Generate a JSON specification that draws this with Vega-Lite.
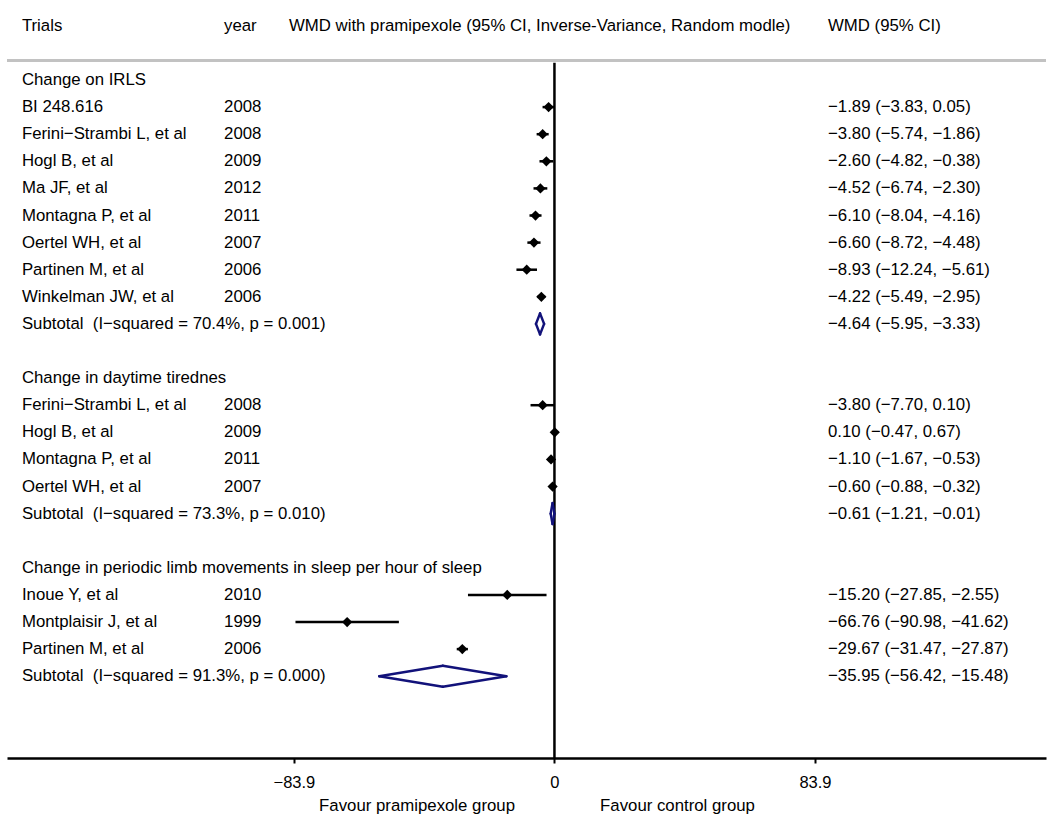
{
  "$schema": "https://vega.github.io/schema/vega-lite/v6.json",
  "width": 1039,
  "height": 758,
  "padding": {"left": 5, "top": 0, "right": 0, "bottom": 0},
  "autosize": {"type": "pad"},
  "background": "white",
  "config": {"view": {"stroke": null}},
  "data": {"values": [
    {"row": 0, "type": "group", "label": "Change on IRLS", "year": "", "result": ""},
    {"row": 1, "type": "study", "label": "BI 248.616", "year": "2008", "est": -1.89, "lo": -3.83, "hi": 0.05, "result": "−1.89 (−3.83, 0.05)"},
    {"row": 2, "type": "study", "label": "Ferini−Strambi L, et al", "year": "2008", "est": -3.80, "lo": -5.74, "hi": -1.86, "result": "−3.80 (−5.74, −1.86)"},
    {"row": 3, "type": "study", "label": "Hogl B, et al", "year": "2009", "est": -2.60, "lo": -4.82, "hi": -0.38, "result": "−2.60 (−4.82, −0.38)"},
    {"row": 4, "type": "study", "label": "Ma JF, et al", "year": "2012", "est": -4.52, "lo": -6.74, "hi": -2.30, "result": "−4.52 (−6.74, −2.30)"},
    {"row": 5, "type": "study", "label": "Montagna P, et al", "year": "2011", "est": -6.10, "lo": -8.04, "hi": -4.16, "result": "−6.10 (−8.04, −4.16)"},
    {"row": 6, "type": "study", "label": "Oertel WH, et al", "year": "2007", "est": -6.60, "lo": -8.72, "hi": -4.48, "result": "−6.60 (−8.72, −4.48)"},
    {"row": 7, "type": "study", "label": "Partinen M, et al", "year": "2006", "est": -8.93, "lo": -12.24, "hi": -5.61, "result": "−8.93 (−12.24, −5.61)"},
    {"row": 8, "type": "study", "label": "Winkelman JW, et al", "year": "2006", "est": -4.22, "lo": -5.49, "hi": -2.95, "result": "−4.22 (−5.49, −2.95)"},
    {"row": 9, "type": "subtotal", "label": "Subtotal\u00a0 (I−squared = 70.4%, p = 0.001)", "year": "", "est": -4.64, "lo": -5.95, "hi": -3.33, "result": "−4.64 (−5.95, −3.33)"},
    {"row": 11, "type": "group", "label": "Change in daytime tirednes", "year": "", "result": ""},
    {"row": 12, "type": "study", "label": "Ferini−Strambi L, et al", "year": "2008", "est": -3.80, "lo": -7.70, "hi": 0.10, "result": "−3.80 (−7.70, 0.10)"},
    {"row": 13, "type": "study", "label": "Hogl B, et al", "year": "2009", "est": 0.10, "lo": -0.47, "hi": 0.67, "result": "0.10 (−0.47, 0.67)"},
    {"row": 14, "type": "study", "label": "Montagna P, et al", "year": "2011", "est": -1.10, "lo": -1.67, "hi": -0.53, "result": "−1.10 (−1.67, −0.53)"},
    {"row": 15, "type": "study", "label": "Oertel WH, et al", "year": "2007", "est": -0.60, "lo": -0.88, "hi": -0.32, "result": "−0.60 (−0.88, −0.32)"},
    {"row": 16, "type": "subtotal", "label": "Subtotal\u00a0 (I−squared = 73.3%, p = 0.010)", "year": "", "est": -0.61, "lo": -1.21, "hi": -0.01, "result": "−0.61 (−1.21, −0.01)"},
    {"row": 18, "type": "group", "label": "Change in periodic limb movements in sleep per hour of sleep", "year": "", "result": ""},
    {"row": 19, "type": "study", "label": "Inoue Y, et al", "year": "2010", "est": -15.20, "lo": -27.85, "hi": -2.55, "result": "−15.20 (−27.85, −2.55)"},
    {"row": 20, "type": "study", "label": "Montplaisir J, et al", "year": "1999", "est": -66.76, "lo": -83.4, "hi": -50.1, "result": "−66.76 (−90.98, −41.62)"},
    {"row": 21, "type": "study", "label": "Partinen M, et al", "year": "2006", "est": -29.67, "lo": -31.47, "hi": -27.87, "result": "−29.67 (−31.47, −27.87)"},
    {"row": 22, "type": "subtotal", "label": "Subtotal\u00a0 (I−squared = 91.3%, p = 0.000)", "year": "", "est": -35.95, "lo": -56.42, "hi": -15.48, "result": "−35.95 (−56.42, −15.48)"}
  ]},
  "layer": [
    {
      "data": {"values": [{"h1": "Trials", "h2": "year", "h3": "WMD with pramipexole (95% CI, Inverse-Variance, Random modle)", "h4": "WMD (95% CI)", "f1": "Favour pramipexole group", "f2": "Favour control group"}]},
      "layer": [
        {"mark": {"type": "rule", "color": "#c2c2c2", "strokeWidth": 3},
         "encoding": {
           "x": {"datum": -176.3, "type": "quantitative", "scale": {"domain": [-176.3, 158.3], "nice": false, "zero": false}, "title": null},
           "x2": {"datum": 158.3},
           "y": {"datum": -0.72, "type": "quantitative", "scale": {"domain": [-2.952, 25.018], "reverse": true, "nice": false, "zero": false}, "axis": null}
         }},
        {"mark": {"type": "rule", "color": "black", "strokeWidth": 2.5},
         "encoding": {
           "x": {"datum": 0, "type": "quantitative", "title": null},
           "y": {"datum": -0.64, "type": "quantitative", "axis": null},
           "y2": {"datum": 25.018}
         }},
        {"mark": {"type": "text", "align": "left", "baseline": "middle", "font": "Liberation Sans", "fontSize": 16.8, "color": "black"},
         "encoding": {"x": {"datum": -171.5, "type": "quantitative", "title": null}, "y": {"datum": -2.0, "type": "quantitative", "axis": null}, "text": {"field": "h1"}}},
        {"mark": {"type": "text", "align": "left", "baseline": "middle", "font": "Liberation Sans", "fontSize": 16.8, "color": "black"},
         "encoding": {"x": {"datum": -106.4, "type": "quantitative", "title": null}, "y": {"datum": -2.0, "type": "quantitative", "axis": null}, "text": {"field": "h2"}}},
        {"mark": {"type": "text", "align": "left", "baseline": "middle", "font": "Liberation Sans", "fontSize": 16.8, "color": "black"},
         "encoding": {"x": {"datum": -85.5, "type": "quantitative", "title": null}, "y": {"datum": -2.0, "type": "quantitative", "axis": null}, "text": {"field": "h3"}}},
        {"mark": {"type": "text", "align": "left", "baseline": "middle", "font": "Liberation Sans", "fontSize": 16.8, "color": "black"},
         "encoding": {"x": {"datum": 88.1, "type": "quantitative", "title": null}, "y": {"datum": -2.0, "type": "quantitative", "axis": null}, "text": {"field": "h4"}}},
        {"mark": {"type": "text", "align": "right", "baseline": "middle", "font": "Liberation Sans", "fontSize": 16.8, "color": "black"},
         "encoding": {"x": {"datum": -12.7, "type": "quantitative", "title": null}, "y": {"datum": 26.8, "type": "quantitative", "axis": null}, "text": {"field": "f1"}}},
        {"mark": {"type": "text", "align": "left", "baseline": "middle", "font": "Liberation Sans", "fontSize": 16.8, "color": "black"},
         "encoding": {"x": {"datum": 14.7, "type": "quantitative", "title": null}, "y": {"datum": 26.8, "type": "quantitative", "axis": null}, "text": {"field": "f2"}}}
      ]
    },
    {
      "transform": [{"filter": "datum.type == 'study'"}],
      "mark": {"type": "rule", "color": "black", "strokeWidth": 2.5},
      "encoding": {
        "x": {"field": "lo", "type": "quantitative", "title": null,
              "axis": {"values": [-83.9, 0, 83.9], "labelExpr": "datum.value == 0 ? '0' : format(datum.value, '.1f')", "domainColor": "black", "domainWidth": 2.5, "tickColor": "black", "tickWidth": 2, "tickSize": 5, "labelFont": "Liberation Sans", "labelFontSize": 16.5, "labelColor": "black", "labelPadding": 11, "grid": false, "title": null}},
        "x2": {"field": "hi"},
        "y": {"field": "row", "type": "quantitative", "axis": null}
      }
    },
    {
      "transform": [{"filter": "datum.type == 'study'"}],
      "mark": {"type": "point", "shape": "diamond", "filled": true, "color": "black", "size": 105, "opacity": 1},
      "encoding": {
        "x": {"field": "est", "type": "quantitative", "title": null},
        "y": {"field": "row", "type": "quantitative", "axis": null}
      }
    },
    {
      "transform": [{"filter": "datum.type == 'subtotal'"}],
      "layer": [
        {"mark": {"type": "rule", "color": "#12127a", "strokeWidth": 2.5, "strokeCap": "round", "y2Offset": -10.5},
         "encoding": {"x": {"field": "lo", "type": "quantitative", "title": null}, "x2": {"field": "est"}, "y": {"field": "row", "type": "quantitative", "axis": null}, "y2": {"field": "row"}}},
        {"mark": {"type": "rule", "color": "#12127a", "strokeWidth": 2.5, "strokeCap": "round", "y2Offset": 10.5},
         "encoding": {"x": {"field": "lo", "type": "quantitative", "title": null}, "x2": {"field": "est"}, "y": {"field": "row", "type": "quantitative", "axis": null}, "y2": {"field": "row"}}},
        {"mark": {"type": "rule", "color": "#12127a", "strokeWidth": 2.5, "strokeCap": "round", "y2Offset": -10.5},
         "encoding": {"x": {"field": "hi", "type": "quantitative", "title": null}, "x2": {"field": "est"}, "y": {"field": "row", "type": "quantitative", "axis": null}, "y2": {"field": "row"}}},
        {"mark": {"type": "rule", "color": "#12127a", "strokeWidth": 2.5, "strokeCap": "round", "y2Offset": 10.5},
         "encoding": {"x": {"field": "hi", "type": "quantitative", "title": null}, "x2": {"field": "est"}, "y": {"field": "row", "type": "quantitative", "axis": null}, "y2": {"field": "row"}}}
      ]
    },
    {
      "mark": {"type": "text", "align": "left", "baseline": "middle", "font": "Liberation Sans", "fontSize": 16.8, "color": "black"},
      "encoding": {"x": {"datum": -171.5, "type": "quantitative", "title": null}, "y": {"field": "row", "type": "quantitative", "axis": null}, "text": {"field": "label"}}
    },
    {
      "mark": {"type": "text", "align": "left", "baseline": "middle", "font": "Liberation Sans", "fontSize": 16.8, "color": "black"},
      "encoding": {"x": {"datum": -106.4, "type": "quantitative", "title": null}, "y": {"field": "row", "type": "quantitative", "axis": null}, "text": {"field": "year"}}
    },
    {
      "mark": {"type": "text", "align": "left", "baseline": "middle", "font": "Liberation Sans", "fontSize": 16.8, "color": "black"},
      "encoding": {"x": {"datum": 88.1, "type": "quantitative", "title": null}, "y": {"field": "row", "type": "quantitative", "axis": null}, "text": {"field": "result"}}
    }
  ]
}
